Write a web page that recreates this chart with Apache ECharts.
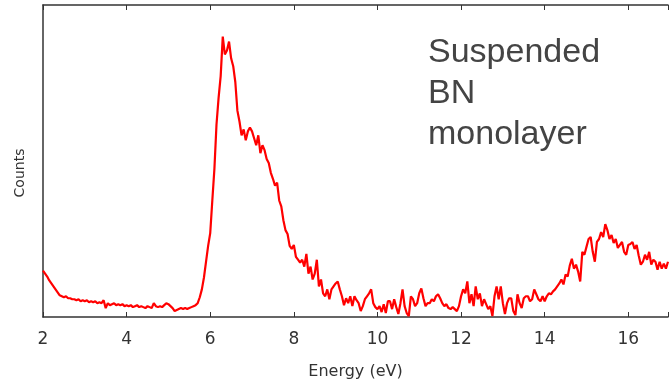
<!DOCTYPE html>
<html>
<head>
<meta charset="utf-8">
<script src="https://cdn.jsdelivr.net/npm/echarts@6/dist/echarts.min.js"></script>
<style>
  html, body { margin: 0; padding: 0; background: #fff; }
  #chart { width: 671px; height: 385px; }
</style>
</head>
<body>
<div id="chart"></div>
<script>
// spectrum channels: start energy and step (eV)
var energyStart = 2.0;
var energyStep = 0.05;
// counts, 20 channels per eV
var counts = [
  47, 44, 41, 37, 34, 31, 28, 25, 22, 21, 20, 21, 19, 19, 18, 18, 17, 18, 16, 17,   // 2
  16, 17, 15, 16, 15, 16, 14, 15, 14, 17, 9, 14, 12, 13, 14, 12, 13, 12, 13, 11,     // 3
  12, 11, 12, 10, 11, 12, 10, 11, 10, 9, 11, 10, 9, 14, 11, 10, 11, 10, 12, 14,      // 4
  13, 11, 9, 6, 7, 8, 9, 8, 9, 8, 9, 10, 11, 12, 14, 20, 28, 40, 56, 72,             // 5
  85, 118, 150, 195, 222, 244, 284, 266, 270, 279, 262, 254, 238, 209, 198, 184, 190, 179, 188, 192, // 6
  188, 181, 174, 184, 166, 174, 169, 160, 156, 146, 140, 133, 136, 118, 112, 98, 88, 84, 72, 69,     // 7
  73, 61, 58, 55, 58, 51, 64, 44, 51, 38, 44, 58, 31, 38, 24, 21, 28, 18, 28, 31,   // 8
  34, 36, 28, 21, 12, 19, 14, 21, 11, 21, 17, 14, 6, 11, 18, 21, 24, 28, 14, 10,    // 9
  8, 11, 5, 13, 4, 16, 16, 8, 18, 10, 3, 14, 28, 11, 4, 1, 21, 18, 11, 14,          // 10
  24, 29, 19, 11, 14, 14, 18, 16, 21, 23, 19, 14, 11, 13, 9, 8, 10, 8, 6, 11,       // 11
  21, 28, 24, 36, 14, 23, 11, 31, 18, 24, 11, 18, 13, 8, 11, 1, 21, 31, 18, 31,     // 12
  14, 3, 14, 19, 19, 6, 2, 23, 14, 9, 19, 21, 21, 16, 18, 28, 23, 18, 16, 21,       // 13
  16, 21, 24, 23, 26, 28, 31, 34, 38, 33, 43, 41, 52, 59, 49, 53, 46, 36, 66, 63,   // 14
  71, 79, 81, 66, 56, 76, 79, 86, 81, 94, 88, 79, 83, 75, 79, 70, 73, 76, 66, 63,   // 15
  73, 74, 76, 69, 73, 62, 53, 56, 63, 58, 66, 53, 58, 56, 48, 56, 49, 54, 49, 56    // 16
];
var xTicks = [2, 4, 6, 8, 10, 12, 14, 16];
var noteLines = ['Suspended', 'BN', 'monolayer'];

var seriesData = counts.map(function (c, i) {
  return [+(energyStart + i * energyStep).toFixed(2), c];
});

var axisColor = '#333';
var textColor = '#333';
var fontName = 'DejaVu Sans';

var myChart = echarts.init(document.getElementById('chart'));
var option = {
  animation: false,
  grid: { left: 43, right: 0, top: 5, bottom: 64 },
  xAxis: [
    {
      type: 'value',
      min: 2,
      max: 16.95,
      interval: 2,
      name: 'Energy (eV)',
      nameLocation: 'middle',
      nameGap: 47,
      nameTextStyle: { color: textColor, fontSize: 16, fontFamily: fontName },
      axisLine: { show: true, lineStyle: { color: axisColor, width: 1.5 } },
      axisTick: { show: true, inside: true, length: 5, lineStyle: { color: axisColor } },
      axisLabel: {
        color: textColor, fontSize: 17, fontFamily: fontName, margin: 14,
        formatter: function (v) { return xTicks.indexOf(v) >= 0 ? String(v) : ''; }
      },
      splitLine: { show: false }
    },
    {
      type: 'value',
      position: 'top',
      min: 2,
      max: 16.95,
      interval: 2,
      axisLine: { show: true, lineStyle: { color: axisColor, width: 1.5 } },
      axisTick: { show: true, inside: true, length: 5, lineStyle: { color: axisColor } },
      axisLabel: { show: false },
      splitLine: { show: false }
    }
  ],
  yAxis: {
    type: 'value',
    min: 0,
    max: 316,
    axisLine: { show: true, lineStyle: { color: axisColor, width: 1.5 } },
    axisTick: { show: false },
    axisLabel: { show: false },
    splitLine: { show: false }
  },
  graphic: [
    {
      type: 'text',
      x: 20,
      y: 173,
      rotation: Math.PI / 2,
      style: {
        text: 'Counts',
        fill: textColor,
        font: '14px "DejaVu Sans"',
        align: 'center',
        verticalAlign: 'middle'
      }
    },
    {
      type: 'text',
      left: 428,
      top: 32,
      style: {
        text: noteLines.join('\n'),
        fill: '#444',
        font: '34px "Liberation Sans"',
        lineHeight: 41
      }
    }
  ],
  series: [
    {
      type: 'line',
      data: seriesData,
      showSymbol: false,
      lineStyle: { color: '#ff0000', width: 2.2 },
      clip: true
    }
  ]
};
myChart.setOption(option);
</script>
</body>
</html>
